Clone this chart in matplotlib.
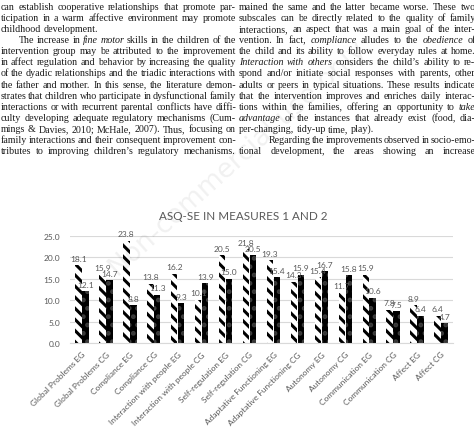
import numpy as np
import matplotlib
matplotlib.use("Agg")
import matplotlib.pyplot as plt

# chart data
categories = ["Global Problems EG", "Global Problems CG", "Compliance EG", "Compliance CG",
              "Interaction with people EG", "Interaction with people CG",
              "Self-regulation EG", "Self-regulation CG",
              "Adaptative Functioning EG", "Adaptative Functioning CG",
              "Autonomy EG", "Autonomy CG", "Communication EG", "Communication CG",
              "Affect EG", "Affect CG"]
measure_1 = [18.1, 15.9, 23.8, 13.8, 16.2, 10.1, 20.5, 21.8, 19.3, 14.3, 15.4, 11.7, 15.9, 7.8, 8.9, 6.4]
measure_2 = [12.1, 14.7, 8.8, 11.3, 9.3, 13.9, 15.0, 20.5, 15.4, 15.9, 16.7, 15.8, 10.6, 7.5, 6.4, 4.7]
y_ticks = [0, 5, 10, 15, 20, 25]

# page text around the figure (*word* = italic)
left_lines = [
    "can establish cooperative relationships that promote par-",
    "ticipation in a warm affective environment may promote",
    "childhood development.",
    "The increase in *fine* *motor* skills in the children of the",
    "intervention group may be attributed to the improvement",
    "in affect regulation and behavior by increasing the quality",
    "of the dyadic relationships and the triadic interactions with",
    "the father and mother. In this sense, the literature demon-",
    "strates that children who participate in dysfunctional family",
    "interactions or with recurrent parental conflicts have diffi-",
    "culty developing adequate regulatory mechanisms (Cum-",
    "mings & Davies, 2010; McHale, 2007). Thus, focusing on",
    "family interactions and their consequent improvement con-",
    "tributes to improving children\u2019s regulatory mechanisms.",
]
left_indent = [3]
left_ragged = [2]
right_lines = [
    "mained the same and the latter became worse. These two",
    "subscales can be directly related to the quality of family",
    "interactions, an aspect that was a main goal of the inter-",
    "vention. In fact, *compliance* alludes to the *obedience* of",
    "the child and its ability to follow everyday rules at home.",
    "*Interaction* *with* *others* considers the child\u2019s ability to re-",
    "spond and/or initiate social responses with parents, other",
    "adults or peers in typical situations. These results indicate",
    "that the intervention improves and enriches daily interac-",
    "tions within the families, offering an opportunity to *take*",
    "*advantage* of the instances that already exist (food, dia-",
    "per-changing, tidy-up time, play).",
    "Regarding the improvements observed in socio-emo-",
    "tional development, the areas showing an increase",
]
right_indent = [12]
right_ragged = [11]

W, H = 474, 439
plt.rcParams["hatch.linewidth"] = 2.2

fig = plt.figure(figsize=(W / 100, H / 100), dpi=100)
renderer = fig.canvas.get_renderer()


def put_column(lines, x0, width, indents, ragged, indent_px):
    for i, line in enumerate(lines):
        y = 1 - (9.5 + 11.15 * i) / H
        start = x0 + (indent_px if i in indents else 0)
        words = line.split(" ")
        objs = []
        for w in words:
            ital = w.startswith("*")
            objs.append(fig.text(0, y, w.strip("*"), family="Liberation Serif", fontsize=7.2,
                                 style="italic" if ital else "normal", color="#1a1a1a",
                                 va="baseline", ha="left"))
        widths = [o.get_window_extent(renderer).width for o in objs]
        if i in ragged or len(words) < 2:
            gap = 2.3
        else:
            gap = (x0 + width - start - sum(widths)) / (len(words) - 1)
        x = start
        for o, w in zip(objs, widths):
            o.set_x(x / W)
            x += w + gap


put_column(left_lines, 0.5, 235.5, left_indent, left_ragged, 18)
put_column(right_lines, 239, 236.5, right_indent, right_ragged, 30)

# bar chart
ax = fig.add_axes([70 / W, 1 - 344.3 / H, 383 / W, 107.6 / H])
x = np.arange(len(categories))
bw = 0.27
b1 = ax.bar(x - 0.145, measure_1, bw, facecolor="white", edgecolor="black", hatch="\\\\\\", linewidth=0)
b2 = ax.bar(x + 0.145, measure_2, bw, facecolor="black", edgecolor="#3c3c3c", hatch="..", linewidth=0)

for bars, vals in [(b1, measure_1), (b2, measure_2)]:
    for b, v in zip(bars, vals):
        ax.annotate(f"{v:.1f}", (b.get_x() + b.get_width() / 2, v), xytext=(0, 2.5),
                    textcoords="offset points", ha="center", va="bottom",
                    fontsize=6, family="Lato", color="#595959")

ax.set_xlim(-0.5, len(categories) - 0.5)
ax.set_ylim(0, 25)
ax.set_yticks(y_ticks)
ax.set_yticklabels([f"{t:.1f}" for t in y_ticks], family="Lato", fontsize=6, color="#595959")
ax.set_xticks(x)
ax.set_xticklabels(categories, rotation=45, ha="right", rotation_mode="anchor",
                   family="Lato", fontsize=6, color="#595959")
ax.tick_params(axis="both", length=0)
ax.tick_params(axis="x", pad=5)
ax.tick_params(axis="y", pad=7)
ax.yaxis.grid(True, color="#d9d9d9", linewidth=0.8)
ax.set_axisbelow(True)
for s in ["top", "right", "left"]:
    ax.spines[s].set_visible(False)
ax.spines["bottom"].set_color("#d9d9d9")
ax.spines["bottom"].set_linewidth(0.8)

fig.text(243 / W, 1 - 216.5 / H, "ASQ-SE IN MEASURES 1 AND 2", ha="center", va="center",
         family="Lato", fontsize=8.4, color="#595959")

# faint watermark
fig.text(118 / W, 1 - 278 / H, "Non-commercial use only", rotation=42, rotation_mode="anchor",
         ha="left", va="baseline", fontsize=19, family="DejaVu Sans", color="black", alpha=0.06)

fig.savefig("out.png", dpi=100)
